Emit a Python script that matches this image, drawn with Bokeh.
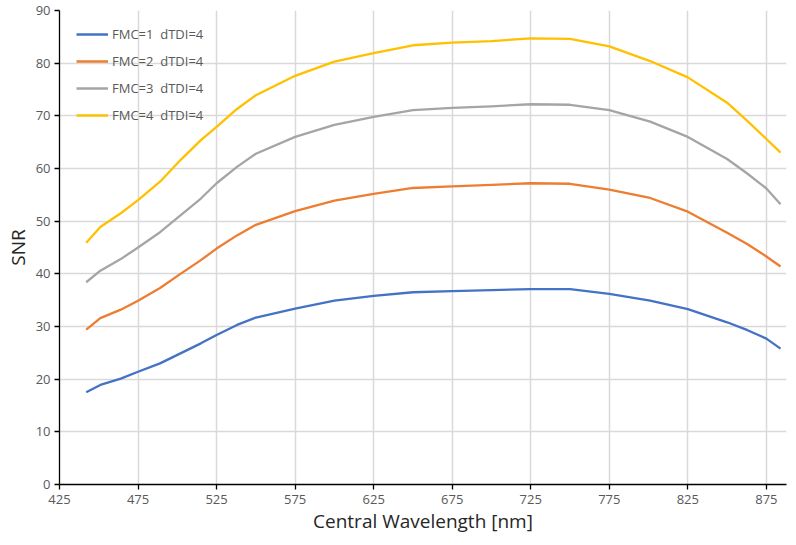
from bokeh.plotting import figure
from bokeh.models import Legend, LegendItem, Range1d, FixedTicker
from bokeh.embed import file_html
from bokeh.resources import INLINE

wavelength = [442, 451, 464, 475, 489, 502, 515, 525, 538, 550, 575, 600, 625, 650, 675, 700, 725, 750, 775, 801, 825, 850, 863, 875, 884]
snr_fmc1 = [17.5, 18.9, 20.1, 21.4, 23.0, 24.9, 26.8, 28.4, 30.3, 31.7, 33.4, 34.9, 35.8, 36.5, 36.7, 36.9, 37.1, 37.1, 36.2, 34.9, 33.3, 30.8, 29.3, 27.7, 25.8]
snr_fmc2 = [29.4, 31.6, 33.2, 34.9, 37.3, 40.0, 42.6, 44.8, 47.3, 49.3, 51.9, 53.9, 55.2, 56.3, 56.6, 56.9, 57.2, 57.1, 56.0, 54.4, 51.8, 47.8, 45.6, 43.3, 41.4]
snr_fmc3 = [38.4, 40.6, 42.8, 45.0, 47.9, 51.1, 54.3, 57.2, 60.3, 62.8, 66.0, 68.3, 69.8, 71.1, 71.5, 71.8, 72.2, 72.1, 71.1, 68.9, 66.0, 61.8, 59.0, 56.2, 53.2]
snr_fmc4 = [45.9, 48.9, 51.5, 54.0, 57.5, 61.6, 65.4, 67.9, 71.3, 73.9, 77.6, 80.3, 81.9, 83.4, 83.9, 84.2, 84.7, 84.6, 83.2, 80.4, 77.3, 72.5, 69.0, 65.6, 63.0]

series_names = ["FMC=1  dTDI=4", "FMC=2  dTDI=4", "FMC=3  dTDI=4", "FMC=4  dTDI=4"]
series_colors = ["#4472C4", "#ED7D31", "#A5A5A5", "#FFC000"]
x_ticks = [425, 475, 525, 575, 625, 675, 725, 775, 825, 875]
y_ticks = [0, 10, 20, 30, 40, 50, 60, 70, 80, 90]

FONT = "Open Sans"

p = figure(width=788, height=537, output_backend="svg", toolbar_location=None,
           x_range=Range1d(425, 887.8), y_range=Range1d(0, 90),
           min_border_left=59, min_border_right=2, min_border_top=10, min_border_bottom=53)
p.outline_line_color = None
p.background_fill_color = "white"
p.border_fill_color = "white"

p.xaxis.ticker = FixedTicker(ticks=x_ticks)
p.yaxis.ticker = FixedTicker(ticks=y_ticks)
for ax in (p.xaxis[0], p.yaxis[0]):
    ax.axis_line_color = "black"
    ax.axis_line_width = 1.3
    ax.major_tick_line_color = "black"
    ax.major_tick_line_width = 1.3
    ax.major_tick_out = 5
    ax.major_tick_in = 0
    ax.minor_tick_line_color = None
    ax.major_label_text_font = FONT
    ax.major_label_text_font_size = "13px"
    ax.major_label_text_color = "#595959"
    ax.axis_label_text_font = FONT
    ax.axis_label_text_font_size = "19px"
    ax.axis_label_text_font_style = "normal"
    ax.axis_label_text_color = "#262626"
p.xaxis.axis_label = "Central Wavelength [nm]"
p.yaxis.axis_label = "SNR"
p.xaxis.major_label_standoff = 5
p.yaxis.major_label_standoff = 4
p.xaxis.axis_label_standoff = 1
p.yaxis.axis_label_standoff = 2

p.xgrid.grid_line_color = "#d9d9d9"
p.ygrid.grid_line_color = "#d9d9d9"
p.xgrid.grid_line_width = 1.5
p.ygrid.grid_line_width = 1.5

items = []
for name, color, ys in zip(series_names, series_colors, [snr_fmc1, snr_fmc2, snr_fmc3, snr_fmc4]):
    r = p.line(wavelength, ys, line_color=color, line_width=2.3, line_join="round")
    items.append(LegendItem(label=name, renderers=[r]))

legend = Legend(items=items, location=(17, 359), orientation="vertical",
                background_fill_alpha=0, border_line_color=None,
                label_text_font=FONT, label_text_font_size="13px", label_text_color="#595959",
                glyph_width=32, glyph_height=20, label_height=20, spacing=7,
                label_standoff=4, padding=5, margin=0)
p.add_layout(legend, "center")

open("out.html", "w").write(file_html(p, INLINE))
